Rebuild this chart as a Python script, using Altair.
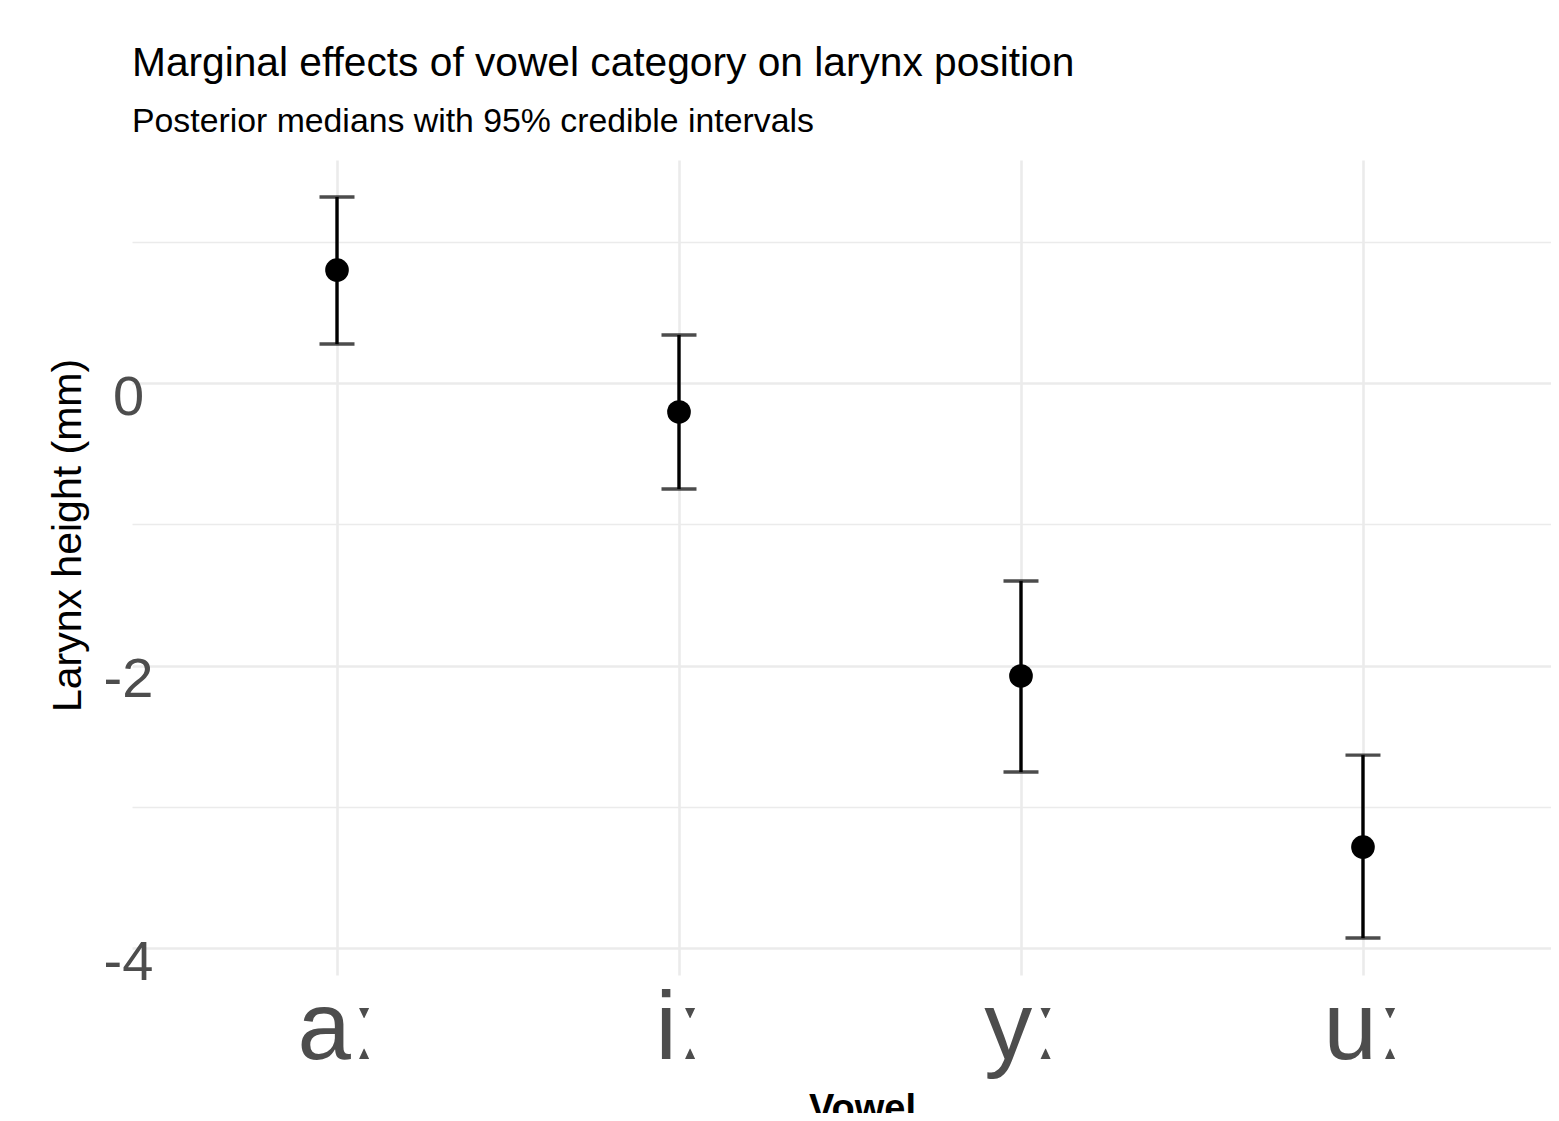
import altair as alt
import pandas as pd

# Data
vowels = ["aː", "iː", "yː", "uː"]
median = [0.800, -0.205, -2.074, -3.285]
lower = [0.276, -0.750, -2.754, -3.929]
upper = [1.317, 0.340, -1.402, -2.634]

df = pd.DataFrame({"vowel": vowels, "median": median, "lower": lower, "upper": upper})

FONT = "Liberation Sans"

x_axis = alt.Axis(
    title="Vowel",
    titleFont=FONT,
    titleFontSize=38,
    titleFontWeight="bold",
    titleColor="#000000",
    titleBaseline="alphabetic",
    titleAlign="center",
    titleX=730,
    titleY=145,
    labelFont=FONT,
    labelFontSize=96,
    labelColor="#4d4d4d",
    labelAngle=0,
    labelBaseline="alphabetic",
    labelPadding=83,
    domain=False,
    ticks=False,
    tickSize=0,
    grid=True,
    gridColor="#ebebeb",
    gridWidth=2.6,
)
x_scale = alt.Scale(type="point", padding=0.5746, align=0.5216)

y_scale = alt.Scale(domain=[-4.191, 1.579], nice=False, zero=False)
y_axis = alt.Axis(
    title="Larynx height (mm)",
    titleFont=FONT,
    titleFontSize=41,
    titleFontWeight="normal",
    titleColor="#000000",
    titleAngle=270,
    titleBaseline="alphabetic",
    titleAlign="center",
    titleX=-52,
    titleY=375,
    values=[-4, -3, -2, -1, 0, 1],
    labelExpr="datum.value % 2 === 0 ? toString(datum.value) : ''",
    labelFont=FONT,
    labelFontSize=56,
    labelColor="#4d4d4d",
    labelAlign="center",
    labelBaseline="middle",
    labelOffset=14,
    labelPadding=4,
    domain=False,
    ticks=False,
    tickSize=0,
    grid=True,
    gridColor="#ebebeb",
    gridWidth={"condition": {"test": "datum.value % 2 === 0", "value": 2.6}, "value": 1.5},
)

base = alt.Chart(df)
X = alt.X("vowel:N", sort=vowels, scale=x_scale, axis=x_axis)

bars = base.mark_rule(color="black", strokeWidth=3.4).encode(
    x=X,
    y=alt.Y("lower:Q", scale=y_scale, axis=y_axis),
    y2="upper:Q",
)

caps_low = base.mark_tick(color="black", size=35, thickness=3.4, orient="horizontal").encode(
    x=X,
    y=alt.Y("lower:Q", scale=y_scale, axis=y_axis),
)
caps_high = base.mark_tick(color="black", size=35, thickness=3.4, orient="horizontal").encode(
    x=X,
    y=alt.Y("upper:Q", scale=y_scale, axis=y_axis),
)

points = base.mark_circle(color="black", size=560, opacity=1).encode(
    x=X,
    y=alt.Y("median:Q", scale=y_scale, axis=y_axis),
)

chart = (
    alt.layer(bars, caps_low, caps_high, points)
    .properties(
        width=1419,
        height=815,
        background="white",
        autosize=alt.AutoSizeParams(type="none"),
        padding={"left": 124, "top": 152, "right": 0, "bottom": 138},
        title=alt.TitleParams(
            text="Marginal effects of vowel category on larynx position",
            subtitle="Posterior medians with 95% credible intervals",
            anchor="start",
            frame="group",
            font=FONT,
            fontSize=40.7,
            fontWeight="normal",
            color="#000000",
            subtitleFont=FONT,
            subtitleFontSize=33.8,
            subtitleColor="#000000",
            subtitlePadding=21,
            offset=20,
        ),
    )
    .configure_axis(domain=False, ticks=False)
    .configure_view(strokeWidth=0, stroke="transparent")
)

chart.save("out.html", embed_options={"renderer": "svg", "actions": False})
